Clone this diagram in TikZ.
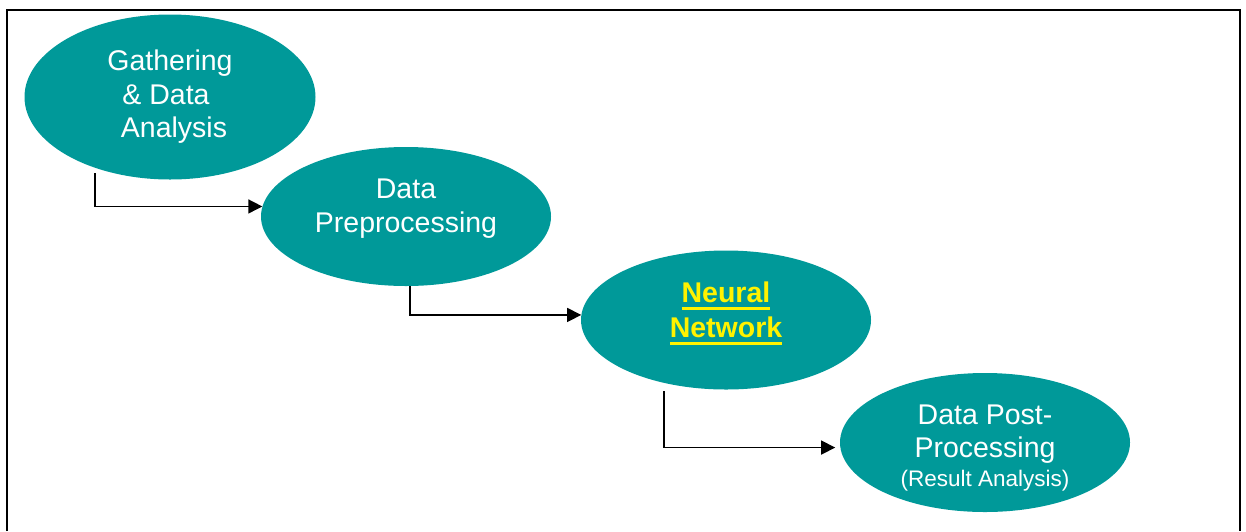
\documentclass[tikz,border=0pt]{standalone}
\usepackage{fontspec}
\setmainfont{Liberation Sans}
\usetikzlibrary{arrows.meta,calc,shapes.geometric}

\definecolor{stageteal}{RGB}{0,153,153}
\newcommand{\hotword}[1]{\setbox0\hbox{\bfseries #1}\rlap{\copy0}\rule[-7pt]{\wd0}{3pt}}
\newcommand{\padgap}{\hbox to 8pt{}}

\begin{document}
\begin{tikzpicture}[x=1pt, y=-1pt,
    stage/.style={ellipse, fill=stageteal, text=white, inner sep=0pt, align=center,
      minimum width=290pt, minimum height=139pt, font=\fontsize{28.5}{33.5}\selectfont},
    flow/.style={-{Triangle[length=14pt,width=14pt]}, line width=1.5pt, to path={|- (\tikztotarget)}}]
  \useasboundingbox (0,0) rectangle (1246,531);
  \draw[line width=2pt] (7,531) |- (1240,10) -- (1240,531);

  \node[stage, minimum width=291pt, minimum height=165pt] (gather) at (170,97) {Gathering\\\& Data\padgap\\\padgap Analysis};
  \node[stage, text depth=22pt] (prep) at (406,216.5) {Data\\Preprocessing};
  \node[stage, text=yellow, text depth=20pt] (nn) at (726,320) {\hotword{Neural}\\[1.5pt]\hotword{Network}};
  \node[stage, text height=88pt, text depth=0pt] (post) at (985,442.5) {Data Post-\\Processing\\[-4.5pt]{\fontsize{22.5}{27}\selectfont(Result Analysis)}};

  \coordinate (gather-out) at ($(gather.south)+(-75,-6.5)$);
  \coordinate (prep-out) at ($(prep.south)+(4,0)$);
  \coordinate (nn-out) at ($(nn.south)+(-62,1.5)$);
  \path[flow]
    (gather-out) edge (prep.176)
    (prep-out) edge (nn.178)
    (nn-out) edge [shorten >=5pt] (post.182);
\end{tikzpicture}
\end{document}
